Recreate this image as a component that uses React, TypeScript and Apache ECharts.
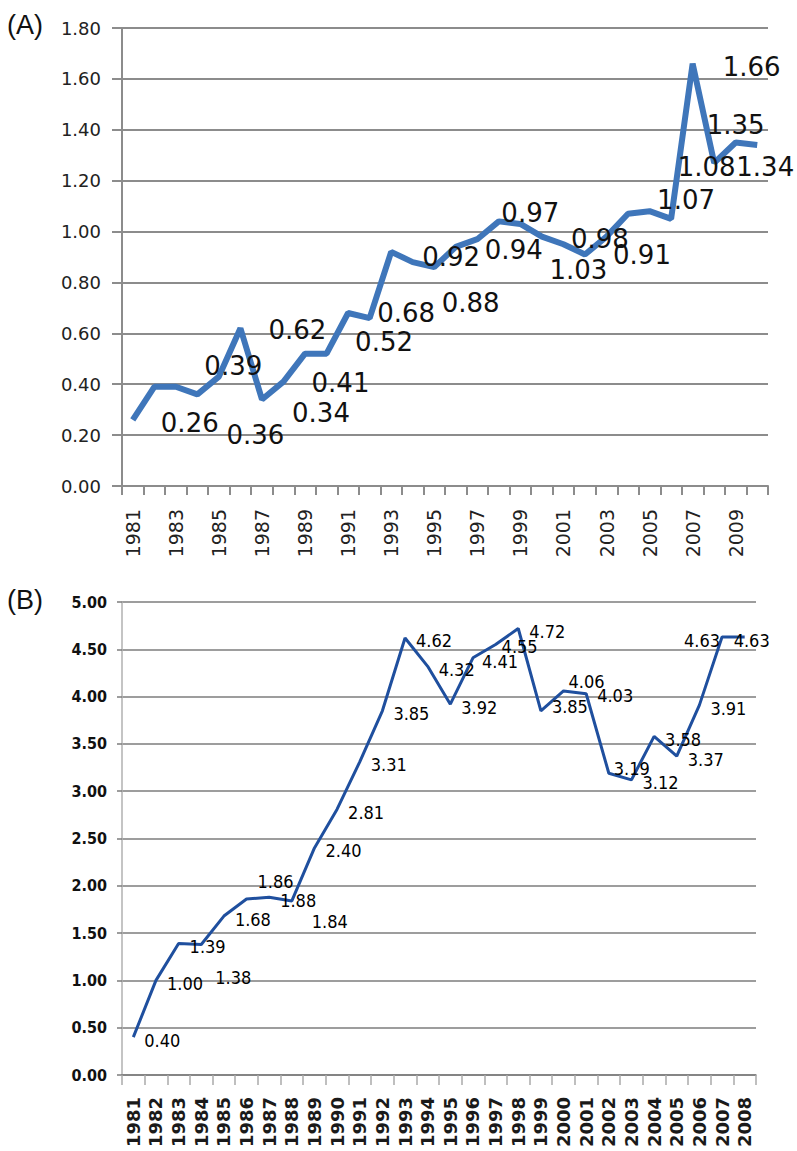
import React, { useEffect, useRef } from "react";
import * as echarts from "echarts";

// ---------- data ----------
const yearsA = [
  "1981", "1982", "1983", "1984", "1985", "1986", "1987", "1988", "1989", "1990",
  "1991", "1992", "1993", "1994", "1995", "1996", "1997", "1998", "1999", "2000",
  "2001", "2002", "2003", "2004", "2005", "2006", "2007", "2008", "2009", "2010",
];
const valuesA = [
  0.26, 0.39, 0.39, 0.36, 0.43, 0.62, 0.34, 0.41, 0.52, 0.52,
  0.68, 0.66, 0.92, 0.88, 0.86, 0.94, 0.97, 1.04, 1.03, 0.98,
  0.95, 0.91, 0.98, 1.07, 1.08, 1.05, 1.66, 1.27, 1.35, 1.34,
];
const yearsB = [
  "1981", "1982", "1983", "1984", "1985", "1986", "1987", "1988", "1989", "1990",
  "1991", "1992", "1993", "1994", "1995", "1996", "1997", "1998", "1999", "2000",
  "2001", "2002", "2003", "2004", "2005", "2006", "2007", "2008",
];
const valuesB = [
  0.4, 1.0, 1.39, 1.38, 1.68, 1.86, 1.88, 1.84, 2.4, 2.81,
  3.31, 3.85, 4.62, 4.32, 3.92, 4.41, 4.55, 4.72, 3.85, 4.06,
  4.03, 3.19, 3.12, 3.58, 3.37, 3.91, 4.63, 4.63,
];
const panelTitles = ["(A)", "(B)"];

// ---------- label placement (styling, pixel offsets from the point) ----------
const labelOffsetsA: Record<number, [number, number]> = {
  0: [57, 3], 1: [79, -21], 3: [58, 41], 5: [57, 2], 6: [59, 14], 7: [57, 1],
  8: [79, -12], 10: [58, 0], 12: [60, 5], 13: [58, 41], 15: [58, 3], 16: [53, -26],
  18: [58, 46], 19: [58, 2], 21: [57, 1], 23: [58, -14], 24: [57, -44], 26: [59, 3],
  28: [0, -18], 29: [8, 22],
};
const defaultOffsetB: [number, number] = [29, 3];
const labelOffsetsB: Record<number, [number, number]> = {
  3: [32, 33], 5: [29, -18], 7: [38, 21], 15: [27, 4], 16: [24, 2], 18: [29, -4],
  19: [23, -9], 20: [29, 2], 21: [23, -5], 26: [-20, 3], 27: [7, 3],
};

const fmt = (v: number) => v.toFixed(2);

export default function App() {
  const ref = useRef<HTMLDivElement>(null);

  useEffect(() => {
    if (!ref.current) return;
    const chart = echarts.init(ref.current, null, { renderer: "svg" });

    const dataA = valuesA.map((v, i) => {
      const off = labelOffsetsA[i];
      return off
        ? { value: v, label: { show: true, offset: off } }
        : { value: v, label: { show: false } };
    });
    const dataB = valuesB.map((v, i) => ({
      value: v,
      label: { show: true, offset: labelOffsetsB[i] || defaultOffsetB },
    }));

    const gridColorA = "#8c8c8c";
    const gridColorB = "#7d7d7d";

    chart.setOption({
      animation: false,
      backgroundColor: "#ffffff",
      grid: [
        { left: 122, top: 28, width: 646, height: 458, outerBoundsMode: "none", containLabel: false },
        { left: 122, top: 602, width: 634, height: 473, outerBoundsMode: "none", containLabel: false },
      ],
      graphic: [
        {
          type: "text", left: 7, top: 11,
          style: { text: panelTitles[0], fontSize: 27, fontFamily: "Liberation Sans", fill: "#111" },
        },
        {
          type: "text", left: 7, top: 586,
          style: { text: panelTitles[1], fontSize: 27, fontFamily: "Liberation Sans", fill: "#111" },
        },
      ],
      xAxis: [
        {
          gridIndex: 0, type: "category", data: yearsA, boundaryGap: true,
          axisLine: { show: true, lineStyle: { color: gridColorA, width: 2 } },
          axisTick: { show: true, interval: 0, length: 9, lineStyle: { color: gridColorA, width: 2 } },
          axisLabel: {
            interval: 1, rotate: 90, margin: 23, fontSize: 19,
            fontFamily: "DejaVu Sans", color: "#222",
          },
          splitLine: { show: false },
        },
        {
          gridIndex: 1, type: "category", data: yearsB, boundaryGap: true,
          axisLine: { show: true, lineStyle: { color: gridColorB, width: 1.5 } },
          axisTick: { show: true, interval: 0, length: 10, lineStyle: { color: "#aaaaaa", width: 1.5 } },
          axisLabel: {
            interval: 0, rotate: 90, margin: 22, fontSize: 18, fontWeight: "bold",
            fontFamily: "DejaVu Sans", color: "#1a1a1a",
          },
          splitLine: { show: false },
        },
      ],
      yAxis: [
        {
          gridIndex: 0, type: "value", min: 0, max: 1.8, interval: 0.2,
          axisLine: { show: true, lineStyle: { color: gridColorA, width: 2 } },
          axisTick: { show: true, length: 10, lineStyle: { color: gridColorA, width: 2 } },
          axisLabel: {
            formatter: (v: number) => fmt(v), margin: 21, fontSize: 18,
            fontFamily: "DejaVu Sans", color: "#222",
          },
          splitLine: { show: true, lineStyle: { color: gridColorA, width: 2 } },
        },
        {
          gridIndex: 1, type: "value", min: 0, max: 5, interval: 0.5,
          axisLine: { show: true, lineStyle: { color: "#b0b0b0", width: 1.5 } },
          axisTick: { show: true, length: 5, lineStyle: { color: gridColorB, width: 1.5 } },
          axisLabel: {
            formatter: (v: number) => fmt(v), margin: 15, fontSize: 16, fontWeight: "bold",
            fontFamily: "DejaVu Sans Condensed", color: "#111",
          },
          splitLine: { show: true, lineStyle: { color: gridColorB, width: 1.5 } },
        },
      ],
      series: [
        {
          type: "line", xAxisIndex: 0, yAxisIndex: 0, data: dataA,
          symbol: "circle", symbolSize: 0, showSymbol: true,
          lineStyle: { color: "#3f76ba", width: 6 },
          itemStyle: { color: "#3f76ba" },
          label: {
            show: true, position: "inside", formatter: (p: any) => fmt(p.value),
            fontSize: 26, fontFamily: "DejaVu Sans", color: "#111",
          },
          emphasis: { disabled: true },
          z: 3,
        },
        {
          type: "line", xAxisIndex: 1, yAxisIndex: 1, data: dataB,
          symbol: "circle", symbolSize: 0, showSymbol: true,
          lineStyle: { color: "#1f4f9e", width: 3 },
          itemStyle: { color: "#1f4f9e" },
          label: {
            show: true, position: "inside", formatter: (p: any) => fmt(p.value),
            fontSize: 18, fontFamily: "DejaVu Sans Condensed", color: "#000",
          },
          emphasis: { disabled: true },
          z: 3,
        },
      ],
    });

    return () => chart.dispose();
  }, []);

  return (
    <div
      ref={ref}
      style={{ position: "absolute", left: 0, top: 0, width: 797, height: 1151 }}
    />
  );
}
